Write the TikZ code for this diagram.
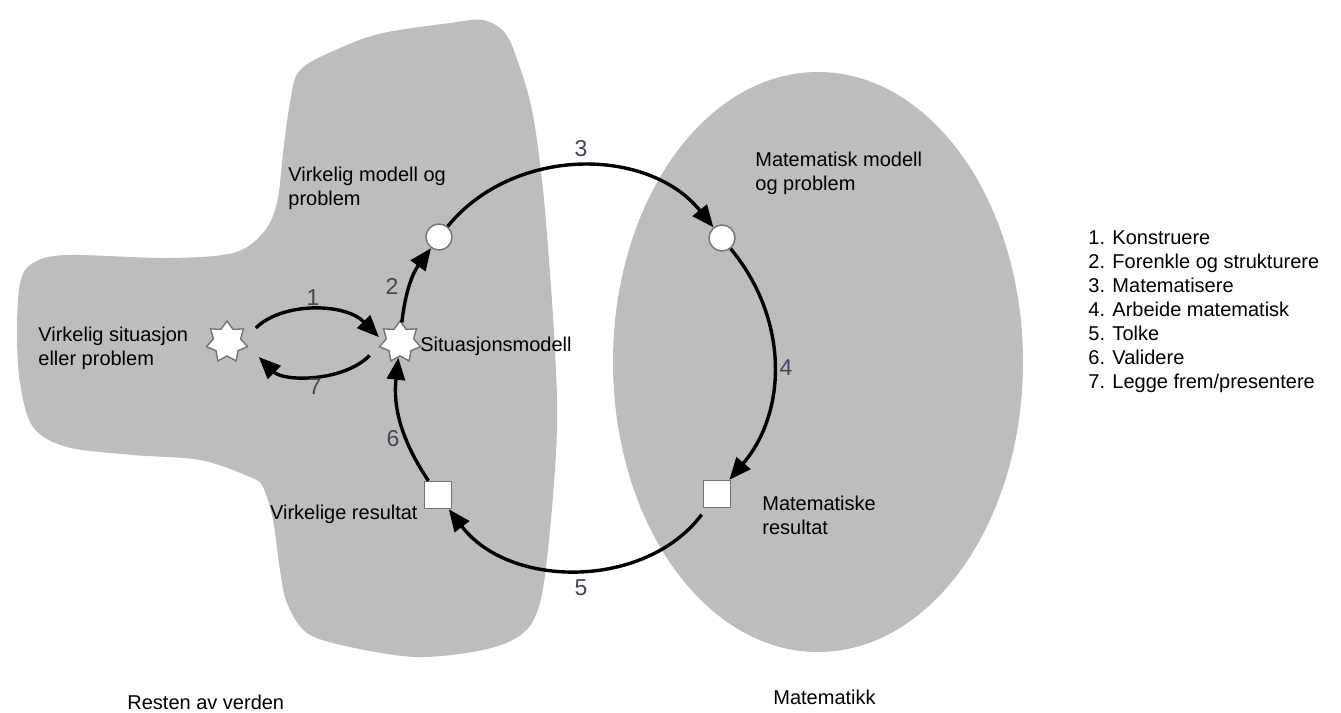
\documentclass[tikz,border=0pt]{standalone}
\usepackage{fontspec}
\setmainfont{Liberation Sans}
\usetikzlibrary{shapes.geometric,arrows.meta}
\definecolor{blobgray}{RGB}{189,189,189}
\definecolor{numgray}{RGB}{68,70,84}

\begin{document}
\begin{tikzpicture}[x=0.5pt,y=-0.5pt,
  flow/.style={line width=1.7pt,-{Triangle[length=11pt,width=9pt]}},
  sitstar/.style={star,star points=7,star point ratio=1.5,minimum size=21pt,
    draw=black!55,fill=white,line width=0.7pt,inner sep=0pt},
  modcirc/.style={circle,minimum size=13pt,draw=black!55,fill=white,line width=0.7pt,inner sep=0pt},
  ressq/.style={rectangle,minimum size=13.5pt,draw=black!55,fill=white,line width=0.7pt,inner sep=0pt},
  stepnum/.style={text=numgray,inner sep=0pt,font=\fontsize{11.5}{13}\selectfont},
  lbl/.style={inner sep=0pt,align=left}]
\useasboundingbox (0,0) rectangle (1341,713);
% the two worlds
\fill [blobgray] plot [smooth cycle,tension=0.55] coordinates {
  (483,20) (505,33) (518,62) (532,110) (542,180) (549,260) (555,350)
  (557,430) (550,530) (540,603) (522,634) (483,650) (417,657) (350,647)
  (307,633) (287,603) (280,570) (273,520) (263,487) (250,477) (200,460)
  (133,455) (67,447) (33,427) (20,383) (17,333) (20,283) (33,263)
  (67,255) (167,258) (233,253) (263,233) (277,203) (283,153) (290,103)
  (300,70) (340,48) (383,33) (450,23)};
\fill [blobgray] (818,362) ellipse [x radius=102.5pt,y radius=145pt];
% stations of the cycle
\node [sitstar] (sitL) at (227,342) {};
\node [sitstar] (sitR) at (400,342) {};
\node [modcirc] (modL) at (439,237) {};
\node [modcirc] (modR) at (722,238) {};
\node [ressq] (resL) at (438,495) {};
\node [ressq] (resR) at (717,494) {};
% arrows
\draw [flow,shorten <=9pt,shorten >=3pt] (sitL.5) to [bend left=45] (sitR.178);
\draw [flow,shorten <=7pt,shorten >=8pt] (sitR.-170) to [bend left=45] (sitL.-10);
\draw [flow] (sitR) to [bend left=15] (modL);
\draw [flow] (modL) to [bend left=51] (modR);
\draw [flow] (modR) to [bend left=40] (resR);
\draw [flow,shorten <=4pt] (resR) to [bend left=53] (resL);
\draw [flow] (resL) to [bend left=20] (sitR);
% step numbers
\node [stepnum] (n1) at (313,298) {1};
\node [stepnum] (n2) at (392,286) {2};
\node [stepnum] (n3) at (581,149) {3};
\node [stepnum] (n4) at (786,368) {4};
\node [stepnum] (n5) at (581,588) {5};
\node [stepnum] (n6) at (393,439) {6};
\node [stepnum] (n7) at (315,387) {7};
% texts
\node [lbl,anchor=north west] (tVM) at (288,167) {Virkelig modell og\\problem};
\node [lbl,anchor=north west] (tVS) at (38,327) {Virkelig situasjon\\eller problem};
\node [lbl,anchor=base west] (tSM) at (420,351) {Situasjonsmodell};
\node [lbl,anchor=base east] (tVR) at (418,519) {Virkelige resultat};
\node [lbl,anchor=north west] (tMM) at (755,152) {Matematisk modell\\og problem};
\node [lbl,anchor=north west] (tMR) at (762,496) {Matematiske\\resultat};
\node [lbl,anchor=base west] (tRV) at (127,709) {Resten av verden};
\node [lbl,anchor=base west] (tMa) at (773,704) {Matematikk};
\node [lbl,anchor=north west] (legend) at (1088,230) {1. Konstruere\\2. Forenkle og strukturere\\3. Matematisere\\4. Arbeide matematisk\\5. Tolke\\6. Validere\\7. Legge frem/presentere};
\end{tikzpicture}
\end{document}
